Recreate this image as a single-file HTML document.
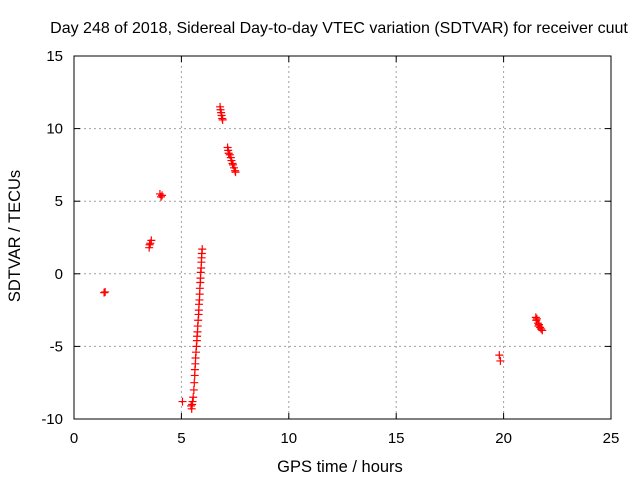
<!DOCTYPE html>
<html><head><meta charset="utf-8"><style>
body{margin:0;background:#fff;}
svg text{font-family:"Liberation Sans",sans-serif;font-size:15px;fill:#000;}
svg text.big{font-size:16.5px;}
svg text.title{font-size:16px;}
</style></head><body>
<svg id="chart" width="640" height="480" xmlns="http://www.w3.org/2000/svg">
<g id="grid"></g><g id="axes"></g><g id="marks"></g>
</svg>
<script>
const xTicks=[0,5,10,15,20,25];
const yTicks=[-10,-5,0,5,10,15];
const hours=[1.4,1.45,3.5,3.52,3.55,3.6,4.0,4.05,4.1,5.05,
5.48,5.5,5.52,5.45,5.55,5.58,5.6,5.62,5.63,5.65,5.66,5.68,5.7,5.72,5.73,5.75,5.76,5.78,5.8,5.81,5.82,5.84,5.85,5.86,5.88,5.89,5.9,5.92,5.93,5.94,5.95,5.97,
6.8,6.82,6.85,6.87,6.9,6.92,
7.15,7.18,7.2,7.25,7.3,7.33,7.38,7.4,7.45,7.5,7.52,
19.8,19.85,
21.5,21.52,21.55,21.6,21.62,21.65,21.7,21.75,21.8];
const values=[-1.3,-1.25,1.8,2.0,2.1,2.3,5.5,5.3,5.4,-8.8,
-9.3,-9.0,-8.8,-9.1,-8.5,-8.0,-7.5,-7.0,-6.6,-6.2,-5.8,-5.4,-5.0,-4.6,-4.3,-4.0,-3.6,-3.2,-2.8,-2.5,-2.1,-1.8,-1.4,-1.0,-0.6,-0.3,0.1,0.4,0.8,1.1,1.4,1.7,
11.5,11.3,11.1,10.9,10.7,10.6,
8.7,8.5,8.3,8.2,8.0,7.8,7.6,7.5,7.3,7.1,7.0,
-5.6,-6.0,
-3.0,-3.2,-3.1,-3.4,-3.6,-3.5,-3.7,-3.8,-3.9];
const X=h=>74+h*(611-74)/25, Y=v=>419-(v+10)*(419-56)/25;
const NS="http://www.w3.org/2000/svg";
function mk(p,t,a){const e=document.createElementNS(NS,t);for(const k in a)e.setAttribute(k,a[k]);p.appendChild(e);return e;}
const grid=document.getElementById('grid'),axes=document.getElementById('axes'),marks=document.getElementById('marks');
xTicks.forEach(t=>{const x=X(t);
 if(t>0&&t<25){const l=mk(grid,'line',{x1:x,x2:x,y1:56,y2:419,stroke:'#a0a0a0','stroke-dasharray':'2,3'});
 
 }
 mk(axes,'line',{x1:x,x2:x,y1:419,y2:413,stroke:'#000'});mk(axes,'line',{x1:x,x2:x,y1:56,y2:62,stroke:'#000'});
 const tx=mk(axes,'text',{x:x,y:443,'text-anchor':'middle'});tx.textContent=t;
 
 });
yTicks.forEach(t=>{const y=Y(t);
 if(t>-10&&t<15){const l=mk(grid,'line',{x1:74,x2:611,y1:y,y2:y,stroke:'#a0a0a0','stroke-dasharray':'2,3'});
 
 }
 mk(axes,'line',{x1:74,x2:80,y1:y,y2:y,stroke:'#000'});mk(axes,'line',{x1:605,x2:611,y1:y,y2:y,stroke:'#000'});
 const tx=mk(axes,'text',{x:63,y:y+5,'text-anchor':'end'});tx.textContent=t;
 
 });
const fr=mk(axes,'rect',{x:74,y:56,width:537,height:363,fill:'none',stroke:'#000'});


const tt=mk(axes,'text',{x:339,y:33,'text-anchor':'middle','class':'title'});tt.textContent='Day 248 of 2018, Sidereal Day-to-day VTEC variation (SDTVAR) for receiver cuut';


const xl=mk(axes,'text',{x:340,y:472,'text-anchor':'middle','class':'big'});xl.textContent='GPS time / hours';


const yl=mk(axes,'text',{x:20,y:236,'text-anchor':'middle','class':'big',transform:'rotate(-90 20 236)'});yl.textContent='SDTVAR / TECUs';


hours.forEach((h,i)=>{const x=X(h),y=Y(values[i]);
 const p=mk(marks,'path',{d:`M${x-4},${y}H${x+4}M${x},${y-4}V${y+4}`,stroke:'#f00','stroke-width':1.2});
 
 });
</script>
</body></html>
